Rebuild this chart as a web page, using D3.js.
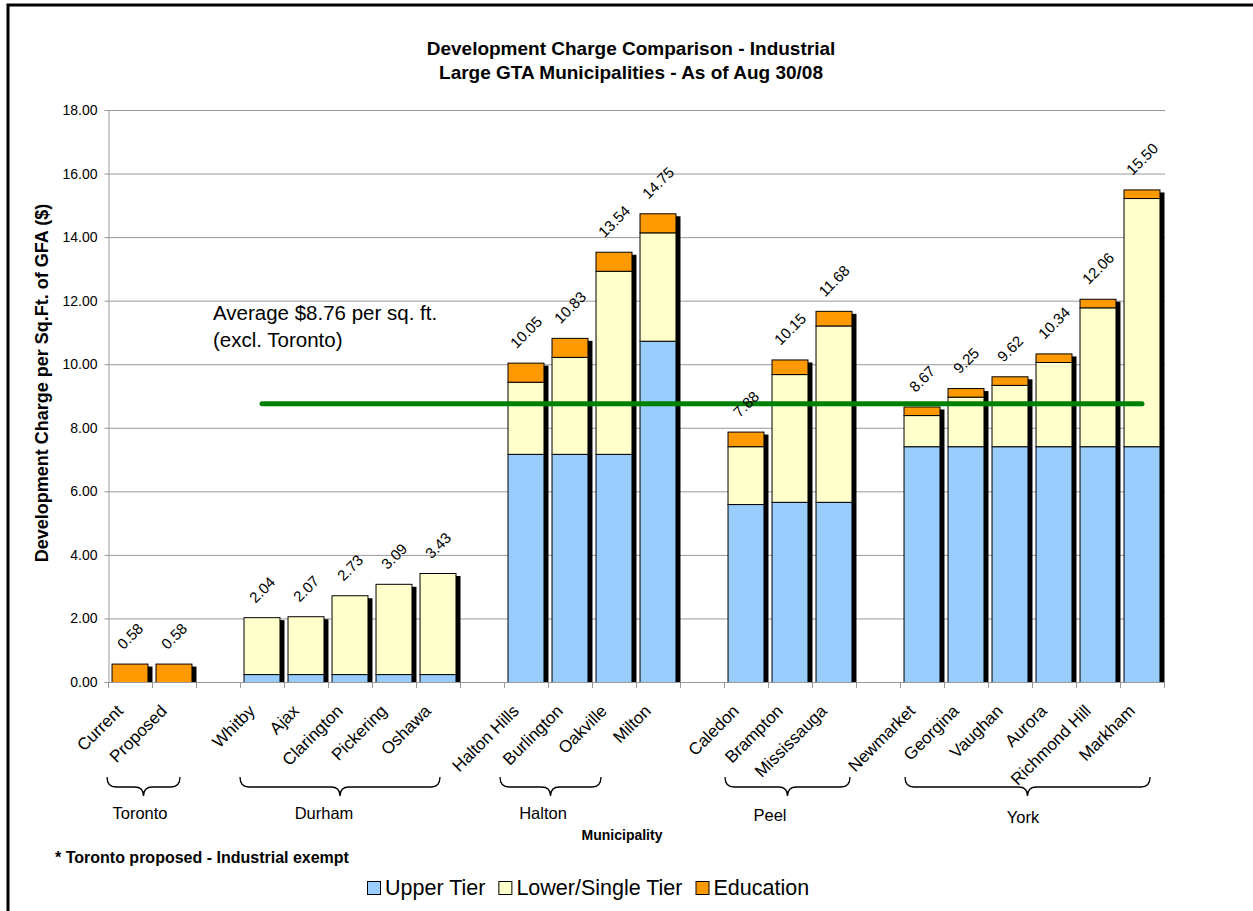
<!DOCTYPE html>
<html><head><meta charset="utf-8">
<script src="https://cdn.jsdelivr.net/npm/d3@7"></script>
<style>
body{margin:0;background:#fff}
svg{display:block;font-family:Arial,"Liberation Sans",sans-serif}
</style>
</head><body>
<svg id="chart" width="1253" height="911"></svg>
<script>
// Industrial development charges ($ per sq.ft. of GFA), Large GTA municipalities
const categories = ["Current","Proposed","Whitby","Ajax","Clarington","Pickering","Oshawa",
  "Halton Hills","Burlington","Oakville","Milton","Caledon","Brampton","Mississauga",
  "Newmarket","Georgina","Vaughan","Aurora","Richmond Hill","Markham"];
const regions = ["Toronto","Toronto","Durham","Durham","Durham","Durham","Durham",
  "Halton","Halton","Halton","Halton","Peel","Peel","Peel",
  "York","York","York","York","York","York"];
const upperTier = [0,0,0.25,0.25,0.25,0.25,0.25,7.18,7.18,7.18,10.74,5.60,5.67,5.67,7.42,7.42,7.42,7.42,7.42,7.42];
const lowerTier = [0,0,1.79,1.82,2.48,2.84,3.18,2.27,3.05,5.76,3.41,1.82,4.02,5.55,0.98,1.56,1.93,2.65,4.37,7.81];
const education = [0.58,0.58,0,0,0,0,0,0.60,0.60,0.60,0.60,0.46,0.46,0.46,0.27,0.27,0.27,0.27,0.27,0.27];
const seriesNames = ["Upper Tier","Lower/Single Tier","Education"];
const seriesColors = ["#99CCFF","#FFFFCC","#FF9900"];
const yTicks = [0,2,4,6,8,10,12,14,16,18];

const svg = d3.select("#chart");
const fmt = d3.format(".2f");

const plot = {left:108, right:1164, top:110, bottom:682};

// band domain with an empty slot between regions
const domain = [];
categories.forEach((c,i) => {
  if (i > 0 && regions[i] !== regions[i-1]) domain.push("gap-" + i);
  domain.push(c);
});
const x = d3.scaleBand().domain(domain).range([plot.left, plot.right])
  .paddingInner(0.16).paddingOuter(0.08);
const step = x.step();
const y = d3.scaleLinear().domain([0,18]).range([plot.bottom, plot.top]);
const cx = c => x(c) + x.bandwidth()/2;

const rows = categories.map((c,i) => ({cat:c, region:regions[i], upper:upperTier[i], lower:lowerTier[i], edu:education[i]}));
rows.forEach(r => r.total = r.upper + r.lower + r.edu);
const keys = ["upper","lower","edu"];
const stacked = d3.stack().keys(keys)(rows);

// chart frame
svg.append("rect").attr("x",8).attr("y",5).attr("width",1260).attr("height",930)
  .attr("fill","none").attr("stroke","#000").attr("stroke-width",3);

// title
const title = svg.append("text").attr("text-anchor","middle")
  .attr("font-weight","bold").attr("font-size",19);
title.append("tspan").attr("x",631).attr("y",55).text("Development Charge Comparison - Industrial");
title.append("tspan").attr("x",631).attr("y",79).text("Large GTA Municipalities - As of Aug 30/08");

// gridlines
svg.append("g").selectAll("line").data(yTicks.filter(t => t > 0)).join("line")
  .attr("x1",plot.left).attr("x2",plot.right+1)
  .attr("y1",d => y(d)+0.5).attr("y2",d => y(d)+0.5)
  .attr("stroke","#999").attr("stroke-width",1);

// y axis
const yAxis = svg.append("g").attr("transform",`translate(${plot.left+0.5},0)`)
  .call(d3.axisLeft(y).tickValues(yTicks).tickFormat(fmt).tickSize(4).tickPadding(7));
yAxis.select(".domain").attr("stroke","#999");
yAxis.selectAll(".tick line").attr("stroke","#999");
yAxis.selectAll(".tick text").attr("font-size",14).attr("fill","#000")
  .attr("font-family","Arial, 'Liberation Sans', sans-serif");

// y axis title
svg.append("text").attr("transform","translate(48,383) rotate(-90)")
  .attr("text-anchor","middle").attr("font-weight","bold").attr("font-size",18)
  .text("Development Charge per Sq.Ft. of GFA ($)");

// bar shadows
const dx = 4, dy = 3;
svg.append("g").selectAll("rect").data(rows.filter(r => r.total > 0)).join("rect")
  .attr("x",d => x(d.cat)+dx).attr("y",d => y(d.total)+dy)
  .attr("width",x.bandwidth()).attr("height",d => y(0) - y(d.total) - dy)
  .attr("fill","#000");

// stacked bars
svg.append("g").selectAll("g").data(stacked).join("g")
  .attr("fill",(d,i) => seriesColors[i])
  .selectAll("rect").data(d => d.filter(s => s[1] - s[0] > 0)).join("rect")
  .attr("x",d => x(d.data.cat)+0.5).attr("y",d => y(d[1])+0.5)
  .attr("width",x.bandwidth()-1).attr("height",d => y(d[0]) - y(d[1]))
  .attr("stroke","#000").attr("stroke-width",1);

// x axis line and slot ticks
const bounds = d3.range(domain.length + 1).map(i => plot.left + i*step);
svg.append("line").attr("x1",plot.left).attr("x2",plot.right+1)
  .attr("y1",plot.bottom+0.5).attr("y2",plot.bottom+0.5).attr("stroke","#999");
svg.append("g").selectAll("line").data(bounds).join("line")
  .attr("x1",d => Math.round(d)+0.5).attr("x2",d => Math.round(d)+0.5)
  .attr("y1",plot.bottom).attr("y2",plot.bottom+6).attr("stroke","#999");

// average line (excluding Toronto)
const others = rows.filter(r => r.region !== "Toronto");
const avg = d3.mean(others, r => r.total);
svg.append("line")
  .attr("x1",cx(others[0].cat)).attr("x2",cx(others[others.length-1].cat))
  .attr("y1",y(avg)).attr("y2",y(avg))
  .attr("stroke","#008000").attr("stroke-width",5).attr("stroke-linecap","round");

const note = svg.append("text").attr("font-size",20.5);
note.append("tspan").attr("x",213).attr("y",320).text(`Average $${fmt(avg)} per sq. ft.`);
note.append("tspan").attr("x",213).attr("y",347).text("(excl. Toronto)");

// value labels: rotated box sits just above the bar end
const valueLabels = svg.append("g").selectAll("text").data(rows).join("text")
  .attr("text-anchor","middle").attr("dominant-baseline","central")
  .attr("font-size",15).text(d => fmt(d.total));
valueLabels.attr("transform",function(d) {
  const len = this.getComputedTextLength();
  const half = (len + 0.72*15) * Math.SQRT1_2 / 2;
  return `translate(${cx(d.cat)},${y(d.total) - 13.5 - half}) rotate(-45)`;
});

// category labels
svg.append("g").selectAll("text").data(categories).join("text")
  .attr("transform",d => `translate(${cx(d)-6},${plot.bottom+30}) rotate(-45)`)
  .attr("text-anchor","end").attr("font-size",17).text(d => d);

// region braces and names
const braceTop = 777, braceMid = 787, braceTip = 796;
const regionLayout = [
  {name:"Toronto", x1:107, x2:180, tx:140, ty:819},
  {name:"Durham",  x1:240, x2:440, tx:324, ty:819},
  {name:"Halton",  x1:500, x2:601, tx:543, ty:819},
  {name:"Peel",    x1:725, x2:850, tx:770, ty:821},
  {name:"York",    x1:905, x2:1150, tx:1023, ty:823}
];
function bracePath(x1, x2) {
  const m = (x1 + x2) / 2, r = 9;
  return `M${x1},${braceTop} Q${x1},${braceMid} ${x1+r},${braceMid} L${m-r},${braceMid} ` +
    `Q${m},${braceMid} ${m},${braceTip} Q${m},${braceMid} ${m+r},${braceMid} ` +
    `L${x2-r},${braceMid} Q${x2},${braceMid} ${x2},${braceTop}`;
}
svg.append("g").selectAll("path").data(regionLayout).join("path")
  .attr("d",d => bracePath(d.x1, d.x2)).attr("fill","none")
  .attr("stroke","#000").attr("stroke-width",1.3);
svg.append("g").selectAll("text").data(regionLayout).join("text")
  .attr("x",d => d.tx).attr("y",d => d.ty).attr("text-anchor","middle")
  .attr("font-size",16.5).text(d => d.name);

// x axis title
svg.append("text").attr("x",622).attr("y",840).attr("text-anchor","middle")
  .attr("font-weight","bold").attr("font-size",14).text("Municipality");

// footnote
svg.append("text").attr("x",55).attr("y",863).attr("font-weight","bold")
  .attr("font-size",16).text("* Toronto proposed - Industrial exempt");

// legend
const legend = svg.append("g").attr("transform","translate(367,0)");
let lx = 0;
seriesNames.forEach((name,i) => {
  const g = legend.append("g").attr("transform",`translate(${lx},0)`);
  g.append("rect").attr("x",0.5).attr("y",881.5).attr("width",13).attr("height",13)
    .attr("fill",seriesColors[i]).attr("stroke","#000");
  const t = g.append("text").attr("x",18).attr("y",895).attr("font-size",21.5).text(name);
  lx += 18 + t.node().getComputedTextLength() + 13;
});
</script>
</body></html>
